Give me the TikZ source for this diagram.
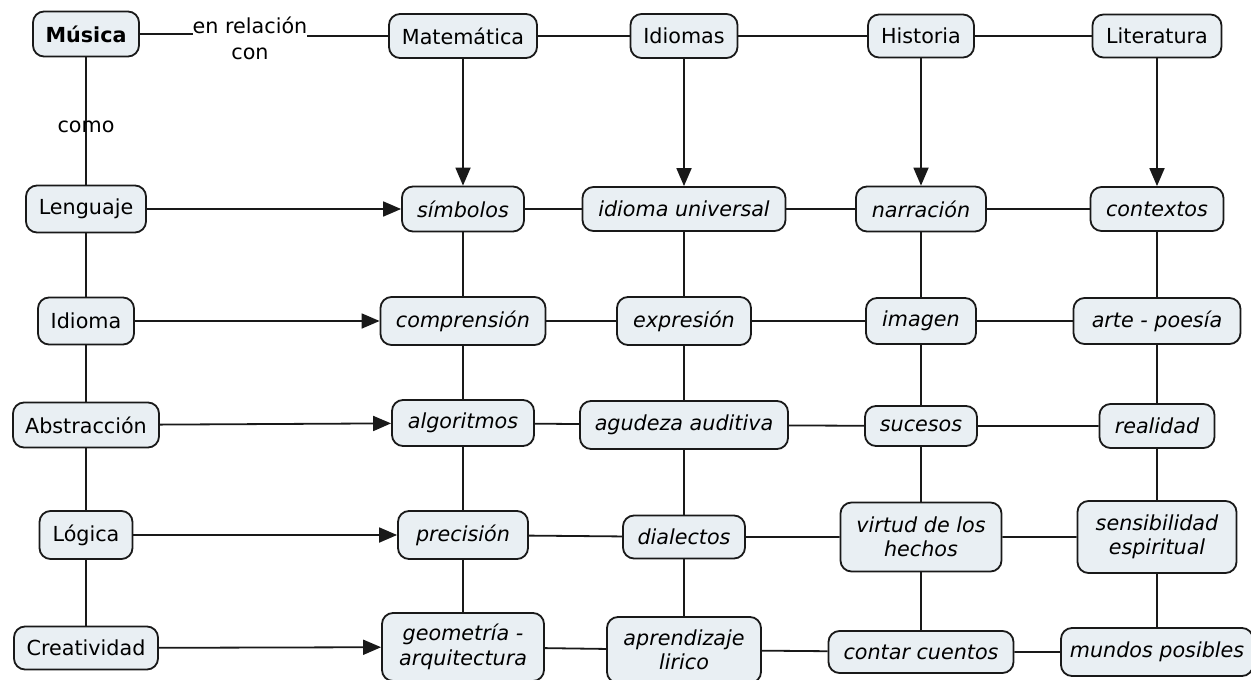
\documentclass[tikz,border=0pt]{standalone}
\usepackage{fontspec}
\setmainfont{DejaVu Sans}
\usetikzlibrary{arrows.meta}
\definecolor{boxfill}{RGB}{233,239,243}
\definecolor{edge}{RGB}{25,25,25}

\begin{document}
\begin{tikzpicture}[x=1pt,y=-1pt,
  concept/.style={draw=edge, line width=1.8pt, fill=boxfill, rounded corners=11pt,
    minimum height=45pt, inner sep=0pt, align=center,
    font=\fontsize{20.7}{24.5}\selectfont},
  idea/.style={concept, font=\fontsize{20.7}{24.5}\selectfont\itshape},
  phrase/.style={inner sep=0pt, align=center, font=\fontsize{20.7}{26}\selectfont},
  link/.style={draw=edge, line width=1.8pt},
  arrow/.style={link, -{Triangle[length=18pt,width=15pt]}}]

\useasboundingbox (0,0) rectangle (1251,680);
\clip (0,0) rectangle (1251,680);

% top row: subjects
\node[concept, font=\fontsize{20.7}{24.5}\selectfont\bfseries, minimum width=106pt] (musica) at (86,34) {Música};
\node[phrase] (enrel) at (250,38) {en relación\\con};
\node[concept, minimum width=148pt, minimum height=44pt] (mate) at (463,36) {Matemática};
\node[concept, minimum width=107pt, minimum height=44pt] (idiomas) at (684,36) {Idiomas};
\node[concept, minimum width=106pt, minimum height=43pt] (historia) at (921,36) {Historia};
\node[concept, minimum width=129pt, minimum height=43pt] (literatura) at (1157,36) {Literatura};

% left column: what music is
\node[concept, minimum width=120pt, minimum height=47pt] (lenguaje) at (86,209) {Lenguaje};
\node[concept, minimum width=96pt, minimum height=47pt] (idioma) at (86,321) {Idioma};
\node[concept, minimum width=146pt] (abstraccion) at (86,425) {Abstracción};
\node[concept, minimum width=93pt, minimum height=48pt] (logica) at (86,535) {Lógica};
\node[concept, minimum width=144pt, minimum height=43pt] (creatividad) at (86,648) {Creatividad};

% row 1
\node[idea, minimum width=122pt] (simbolos) at (463,209) {símbolos};
\node[idea, minimum width=203pt, minimum height=44pt] (iuniversal) at (684,209) {idioma universal};
\node[idea, minimum width=130pt] (narracion) at (921,209) {narración};
\node[idea, minimum width=133pt, minimum height=44pt] (contextos) at (1157,209) {contextos};

% row 2
\node[idea, minimum width=165pt, minimum height=48pt] (comprension) at (463,321) {comprensión};
\node[idea, minimum width=134pt, minimum height=48pt] (expresion) at (684,321) {expresión};
\node[idea, minimum width=110pt, minimum height=46pt] (imagen) at (921,321) {imagen};
\node[idea, minimum width=167pt, minimum height=46pt] (arte) at (1157,321) {arte - poesía};

% row 3
\node[idea, minimum width=142pt, minimum height=46pt] (algoritmos) at (463,423) {algoritmos};
\node[idea, minimum width=208pt, minimum height=48pt] (agudeza) at (684,425) {agudeza auditiva};
\node[idea, minimum width=112pt, minimum height=40pt] (sucesos) at (921,426) {sucesos};
\node[idea, minimum width=115pt, minimum height=44pt] (realidad) at (1157,426) {realidad};

% row 4
\node[idea, minimum width=130pt, minimum height=48pt] (precision) at (463,535) {precisión};
\node[idea, minimum width=122pt, minimum height=43pt] (dialectos) at (684,537) {dialectos};
\node[idea, minimum width=161pt, minimum height=69pt] (virtud) at (921,537) {virtud de los\\hechos};
\node[idea, minimum width=159pt, minimum height=72pt] (sensibilidad) at (1157,537) {sensibilidad\\espiritual};

% row 5
\node[idea, minimum width=162pt, minimum height=68pt] (geometria) at (463,647) {geometría -\\arquitectura};
\node[idea, minimum width=154pt, minimum height=66pt] (aprendizaje) at (684,650) {aprendizaje\\lirico};
\node[idea, minimum width=185pt, minimum height=42pt] (contar) at (921,652) {contar cuentos};
\node[idea, minimum width=192pt, minimum height=48pt] (mundos) at (1157,652) {mundos posibles};

% top connections
\draw[link] (musica.east) -- (enrel.west |- musica.east);
\draw[link] (enrel.east |- mate.west) -- (mate.west);
\draw[link] (mate) -- (idiomas) -- (historia) -- (literatura);
\draw[link] (musica) -- (lenguaje);
\node[phrase] (como) at (86,127) {como};

% subjects feed the first row
\draw[arrow] (mate) -- (simbolos);
\draw[arrow] (idiomas) -- (iuniversal);
\draw[arrow] (historia) -- (narracion);
\draw[arrow] (literatura) -- (contextos);

% left column feeds each row
\draw[arrow] (lenguaje) -- (simbolos);
\draw[arrow] (idioma) -- (comprension);
\draw[arrow] (abstraccion) -- (algoritmos);
\draw[arrow] (logica) -- (precision);
\draw[arrow] (creatividad) -- (geometria);

% vertical chains
\draw[link] (lenguaje) -- (idioma) -- (abstraccion) -- (logica) -- (creatividad);
\draw[link] (simbolos) -- (comprension) -- (algoritmos) -- (precision) -- (geometria);
\draw[link] (iuniversal) -- (expresion) -- (agudeza) -- (dialectos) -- (aprendizaje);
\draw[link] (narracion) -- (imagen) -- (sucesos) -- (virtud) -- (contar);
\draw[link] (contextos) -- (arte) -- (realidad) -- (sensibilidad) -- (mundos);

% horizontal chains
\draw[link] (simbolos) -- (iuniversal) -- (narracion) -- (contextos);
\draw[link] (comprension) -- (expresion) -- (imagen) -- (arte);
\draw[link] (algoritmos) -- (agudeza) -- (sucesos) -- (realidad);
\draw[link] (precision) -- (dialectos) -- (virtud) -- (sensibilidad);
\draw[link] (geometria) -- (aprendizaje) -- (contar) -- (mundos);
\end{tikzpicture}
\end{document}
